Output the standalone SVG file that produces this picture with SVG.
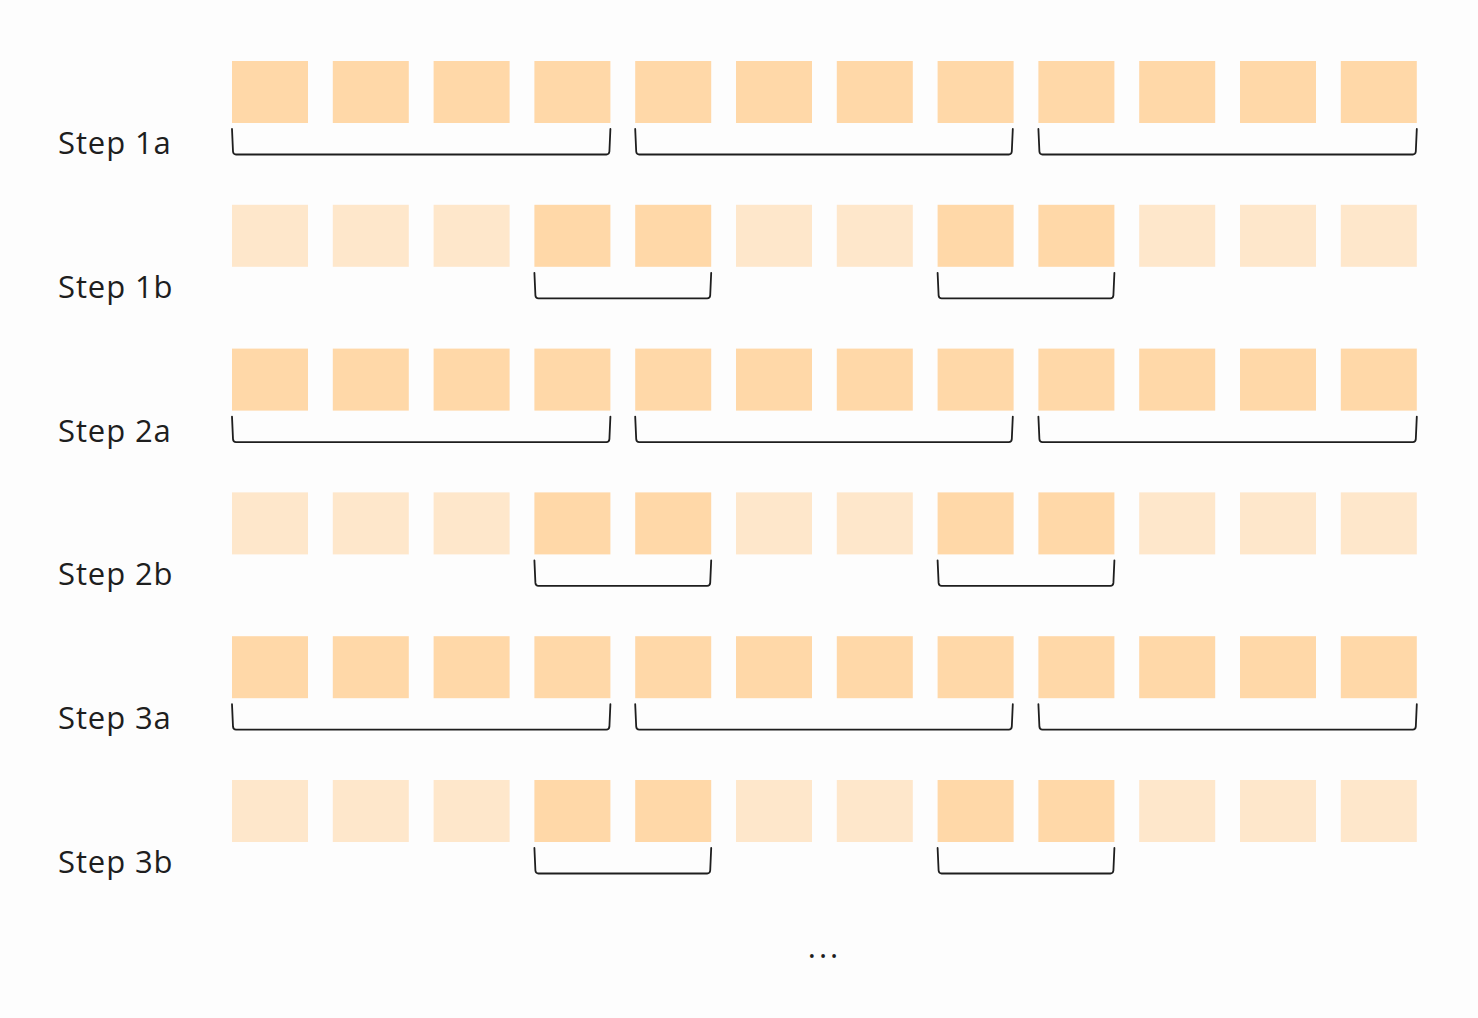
<svg xmlns="http://www.w3.org/2000/svg" width="1478" height="1018" viewBox="0 0 1478 1018">
<style>
.full{fill:#FFD8A8}
.faded{fill:#FEE7CB}
.lbl{font-family:"Open Sans","Noto Sans",sans-serif;font-size:31px;letter-spacing:0.9px;fill:#1e1e1e}
.br{fill:none;stroke:#1e1e1e;stroke-width:1.8;stroke-linejoin:round;stroke-linecap:round}
</style>
<defs>
<rect id="sq" width="76" height="62"/>
</defs>
<rect width="1478" height="1018" fill="#FDFDFD"/>

<g id="row-1a" transform="translate(0,61)">
<text class="lbl" x="58" y="93">Step 1a</text>
<g class="full">
<use href="#sq" x="232"/><use href="#sq" x="332.8"/><use href="#sq" x="433.6"/><use href="#sq" x="534.4"/><use href="#sq" x="635.2"/><use href="#sq" x="736"/><use href="#sq" x="836.8"/><use href="#sq" x="937.6"/><use href="#sq" x="1038.4"/><use href="#sq" x="1139.2"/><use href="#sq" x="1240"/><use href="#sq" x="1340.8"/>
</g>
</g>

<g id="row-1b" transform="translate(0,204.8)">
<text class="lbl" x="58" y="93">Step 1b</text>
<g class="faded">
<use href="#sq" x="232"/><use href="#sq" x="332.8"/><use href="#sq" x="433.6"/><use href="#sq" x="736"/><use href="#sq" x="836.8"/><use href="#sq" x="1139.2"/><use href="#sq" x="1240"/><use href="#sq" x="1340.8"/>
</g>
<g class="full">
<use href="#sq" x="534.4"/><use href="#sq" x="635.2"/><use href="#sq" x="937.6"/><use href="#sq" x="1038.4"/>
</g>
</g>

<g id="row-2a" transform="translate(0,348.6)">
<text class="lbl" x="58" y="93">Step 2a</text>
<g class="full">
<use href="#sq" x="232"/><use href="#sq" x="332.8"/><use href="#sq" x="433.6"/><use href="#sq" x="534.4"/><use href="#sq" x="635.2"/><use href="#sq" x="736"/><use href="#sq" x="836.8"/><use href="#sq" x="937.6"/><use href="#sq" x="1038.4"/><use href="#sq" x="1139.2"/><use href="#sq" x="1240"/><use href="#sq" x="1340.8"/>
</g>
</g>

<g id="row-2b" transform="translate(0,492.4)">
<text class="lbl" x="58" y="93">Step 2b</text>
<g class="faded">
<use href="#sq" x="232"/><use href="#sq" x="332.8"/><use href="#sq" x="433.6"/><use href="#sq" x="736"/><use href="#sq" x="836.8"/><use href="#sq" x="1139.2"/><use href="#sq" x="1240"/><use href="#sq" x="1340.8"/>
</g>
<g class="full">
<use href="#sq" x="534.4"/><use href="#sq" x="635.2"/><use href="#sq" x="937.6"/><use href="#sq" x="1038.4"/>
</g>
</g>

<g id="row-3a" transform="translate(0,636.2)">
<text class="lbl" x="58" y="93">Step 3a</text>
<g class="full">
<use href="#sq" x="232"/><use href="#sq" x="332.8"/><use href="#sq" x="433.6"/><use href="#sq" x="534.4"/><use href="#sq" x="635.2"/><use href="#sq" x="736"/><use href="#sq" x="836.8"/><use href="#sq" x="937.6"/><use href="#sq" x="1038.4"/><use href="#sq" x="1139.2"/><use href="#sq" x="1240"/><use href="#sq" x="1340.8"/>
</g>
</g>

<g id="row-3b" transform="translate(0,780)">
<text class="lbl" x="58" y="93">Step 3b</text>
<g class="faded">
<use href="#sq" x="232"/><use href="#sq" x="332.8"/><use href="#sq" x="433.6"/><use href="#sq" x="736"/><use href="#sq" x="836.8"/><use href="#sq" x="1139.2"/><use href="#sq" x="1240"/><use href="#sq" x="1340.8"/>
</g>
<g class="full">
<use href="#sq" x="534.4"/><use href="#sq" x="635.2"/><use href="#sq" x="937.6"/><use href="#sq" x="1038.4"/>
</g>
</g>

<g id="brackets">
<defs>
<path id="brA1" d="M232 68 L233 90.5 Q233.3 93.5 236 93.5 L606.4 93.5 Q609.1 93.5 609.4 90.5 L610.4 68"/>
<path id="brA2" d="M635.2 68 L636.2 90.5 Q636.5 93.5 639.2 93.5 L1008.8 93.5 Q1011.5 93.5 1011.8 90.5 L1012.8 68"/>
<path id="brA3" d="M1038.4 68 L1039.4 90.5 Q1039.7 93.5 1042.4 93.5 L1412.8 93.5 Q1415.5 93.5 1415.8 90.5 L1416.8 68"/>
<path id="brB1" d="M534.4 68 L535.4 90.5 Q535.7 93.5 538.4 93.5 L707.2 93.5 Q709.9 93.5 710.2 90.5 L711.2 68"/>
<path id="brB2" d="M937.6 68 L938.6 90.5 Q938.9 93.5 941.6 93.5 L1110.4 93.5 Q1113.1 93.5 1113.4 90.5 L1114.4 68"/>
</defs>
<g class="br" transform="translate(0,61)"><use href="#brA1"/><use href="#brA2"/><use href="#brA3"/></g>
<g class="br" transform="translate(0,204.8)"><use href="#brB1"/><use href="#brB2"/></g>
<g class="br" transform="translate(0,348.6)"><use href="#brA1"/><use href="#brA2"/><use href="#brA3"/></g>
<g class="br" transform="translate(0,492.4)"><use href="#brB1"/><use href="#brB2"/></g>
<g class="br" transform="translate(0,636.2)"><use href="#brA1"/><use href="#brA2"/><use href="#brA3"/></g>
<g class="br" transform="translate(0,780)"><use href="#brB1"/><use href="#brB2"/></g>
</g>

<text class="lbl" x="824.5" y="958" text-anchor="middle" style="letter-spacing:3px">...</text>
</svg>
